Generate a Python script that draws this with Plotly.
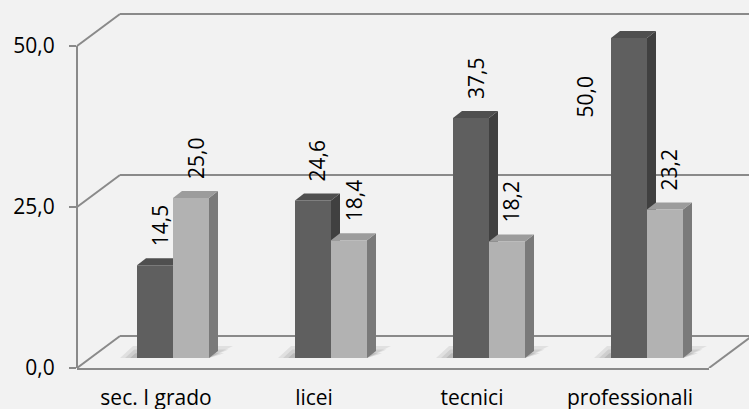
import plotly.graph_objects as go

# ---- data -------------------------------------------------------------
categories = ["sec. I grado", "licei", "tecnici", "professionali"]
series_dark = [14.5, 24.6, 37.5, 50.0]
series_light = [25.0, 18.4, 18.2, 23.2]
y_ticks = [0, 25, 50]

# ---- geometry (pixels) -------------------------------------------------
W, H = 749, 409
ML, MR, MT, MB = 77, 40, 0, 41
PW = W - ML - MR
PH = H - MT - MB
n = len(categories)
cat_px = PW / n

FRONT_TOP_PX = 46                 # pixel row of the top tick on the front wall
FRONT_SCALE = (PH - FRONT_TOP_PX + MT) / y_ticks[-1]
BAR_DX_PX, BAR_DY_PX = 17, 10     # bar plane sits behind the front wall
BAR_SCALE = 6.4                   # px per unit on the bar plane
BAR_W_PX = 36
DEPTH_DX, DEPTH_DY = 9, 7         # bar depth (side / top faces)
WALL_DX, WALL_DY = 43, 32         # back wall offset

y_range = [0, PH / FRONT_SCALE]
shift = BAR_DX_PX / cat_px
x2_range = [-0.5 - shift, n - 0.5 - shift]
y2_lo = -BAR_DY_PX / BAR_SCALE
y2_range = [y2_lo, y2_lo + PH / BAR_SCALE]

bw = BAR_W_PX / cat_px
ddx = DEPTH_DX / cat_px
ddy = DEPTH_DY / BAR_SCALE
px_x = 1 / cat_px                 # one pixel in bar-plane x units
px_y = 1 / BAR_SCALE              # one pixel in bar-plane y units

BG = "#f2f2f2"
LINE = "#8a8a8a"
DARK = dict(front="#5f5f5f", side="#404040", top="#4f4f4f")
LIGHT = dict(front="#b2b2b2", side="#7a7a7a", top="#9c9c9c")
FONT = "Open Sans"
FSIZE = 21

fig = go.Figure()

# anchor trace so the front axes are drawn
fig.add_trace(go.Scatter(x=list(range(n)), y=[0] * n, mode="markers",
                         marker=dict(opacity=0), hoverinfo="skip", showlegend=False))

fig.add_trace(go.Bar(
    x=list(range(n)), y=series_dark, xaxis="x2", yaxis="y2", cliponaxis=False,
    offset=-bw, width=bw, marker=dict(color=DARK["front"], line=dict(width=0)),
    hoverinfo="skip", showlegend=False))
fig.add_trace(go.Bar(
    x=list(range(n)), y=series_light, xaxis="x2", yaxis="y2", cliponaxis=False,
    offset=0, width=bw, marker=dict(color=LIGHT["front"], line=dict(width=0)),
    hoverinfo="skip", showlegend=False))

shapes = []

# ---- 3D frame: front edge, diagonals, back wall ------------------------
wdx = WALL_DX / PW
wdy = WALL_DY / FRONT_SCALE
line_style = dict(color=LINE, width=2)
shapes.append(dict(type="line", xref="paper", yref="y", x0=0, y0=0, x1=0,
                   y1=y_ticks[-1], line=line_style, layer="below"))
for t in y_ticks:
    shapes.append(dict(type="line", xref="paper", yref="y",
                       x0=0, y0=t, x1=wdx, y1=t + wdy, line=line_style, layer="below"))
    shapes.append(dict(type="line", xref="paper", yref="y",
                       x0=wdx, y0=t + wdy, x1=1 + wdx, y1=t + wdy, line=line_style, layer="below"))
shapes.append(dict(type="line", xref="paper", yref="y",
                   x0=1, y0=0, x1=1 + wdx, y1=wdy, line=line_style, layer="below"))


def path(pts):
    return "M " + " L ".join(f"{x},{y}" for x, y in pts) + " Z"


# ---- soft floor shadows (stacked translucent layers) -------------------
for i in range(n):
    xl = i - bw
    xr = i + bw
    for k, alpha in ((0, 0.07), (1, 0.08), (2, 0.10)):
        spread = 1 - 0.3 * k
        shapes.append(dict(
            type="path", xref="x2", yref="y2", layer="below",
            path=path([(xl - 17 * spread * px_x, 0),
                       (xr, 0),
                       (xr + (DEPTH_DX + 15 * spread) * px_x, 12 * spread * px_y),
                       (xl - 4 * spread * px_x, 12 * spread * px_y)]),
            fillcolor=f"rgba(0,0,0,{alpha})", line=dict(width=0)))

# ---- side and top faces of each bar ------------------------------------
for vals, off, col in ((series_dark, -bw, DARK), (series_light, 0, LIGHT)):
    for i, v in enumerate(vals):
        xl = i + off
        xr = xl + bw
        shapes.append(dict(type="path", xref="x2", yref="y2", layer="below",
                           path=path([(xr, 0), (xr, v), (xr + ddx, v + ddy), (xr + ddx, ddy)]),
                           fillcolor=col["side"], line=dict(width=0)))
        shapes.append(dict(type="path", xref="x2", yref="y2", layer="below",
                           path=path([(xl, v), (xr, v), (xr + ddx, v + ddy), (xl + ddx, v + ddy)]),
                           fillcolor=col["top"], line=dict(width=0)))

# ---- value labels ------------------------------------------------------
def fmt(v):
    return f"{v:.1f}".replace(".", ",")


LABEL_GAP_PX = 10
LABEL_LEN_PX = 42
annotations = []
for vals, off in ((series_dark, -bw), (series_light, 0)):
    for i, v in enumerate(vals):
        xc = i + off + bw / 2 + ddx / 2
        label_top = v + ddy + (LABEL_GAP_PX + LABEL_LEN_PX) / BAR_SCALE
        font = dict(family=FONT, size=FSIZE, color="#000")
        if label_top < y2_range[1]:
            annotations.append(dict(x=xc, y=v + ddy, xref="x2", yref="y2",
                                    text=fmt(v), textangle=-90, showarrow=False,
                                    xanchor="center", yanchor="bottom", yshift=LABEL_GAP_PX,
                                    font=font))
        else:
            annotations.append(dict(x=i + off, y=v, xref="x2", yref="y2",
                                    text=fmt(v), textangle=-90, showarrow=False,
                                    xanchor="right", yanchor="top", xshift=-11, yshift=-37,
                                    font=font))

fig.update_layout(
    width=W, height=H,
    margin=dict(l=ML, r=MR, t=MT, b=MB, pad=0, autoexpand=False),
    paper_bgcolor=BG, plot_bgcolor=BG,
    separators=",.",
    barmode="overlay",
    showlegend=False,
    font=dict(family=FONT, size=FSIZE, color="#000"),
    shapes=shapes,
    annotations=annotations,
    xaxis=dict(range=[-0.5, n - 0.5], tickmode="array", tickvals=list(range(n)),
               ticktext=categories, showgrid=False, zeroline=False,
               showline=True, linecolor=LINE, linewidth=2, ticks="",
               ticklabelstandoff=10, automargin=False, fixedrange=True),
    yaxis=dict(range=y_range, tickmode="array", tickvals=y_ticks,
               tickformat=".1f", showgrid=False, zeroline=False, showline=False,
               ticks="outside", ticklen=7, tickcolor=LINE, tickwidth=2,
               ticklabelstandoff=10, automargin=False, fixedrange=True),
    xaxis2=dict(range=x2_range, overlaying="x", visible=False, fixedrange=True),
    yaxis2=dict(range=y2_range, overlaying="y", visible=False, fixedrange=True),
)

fig.write_html("out.html")
